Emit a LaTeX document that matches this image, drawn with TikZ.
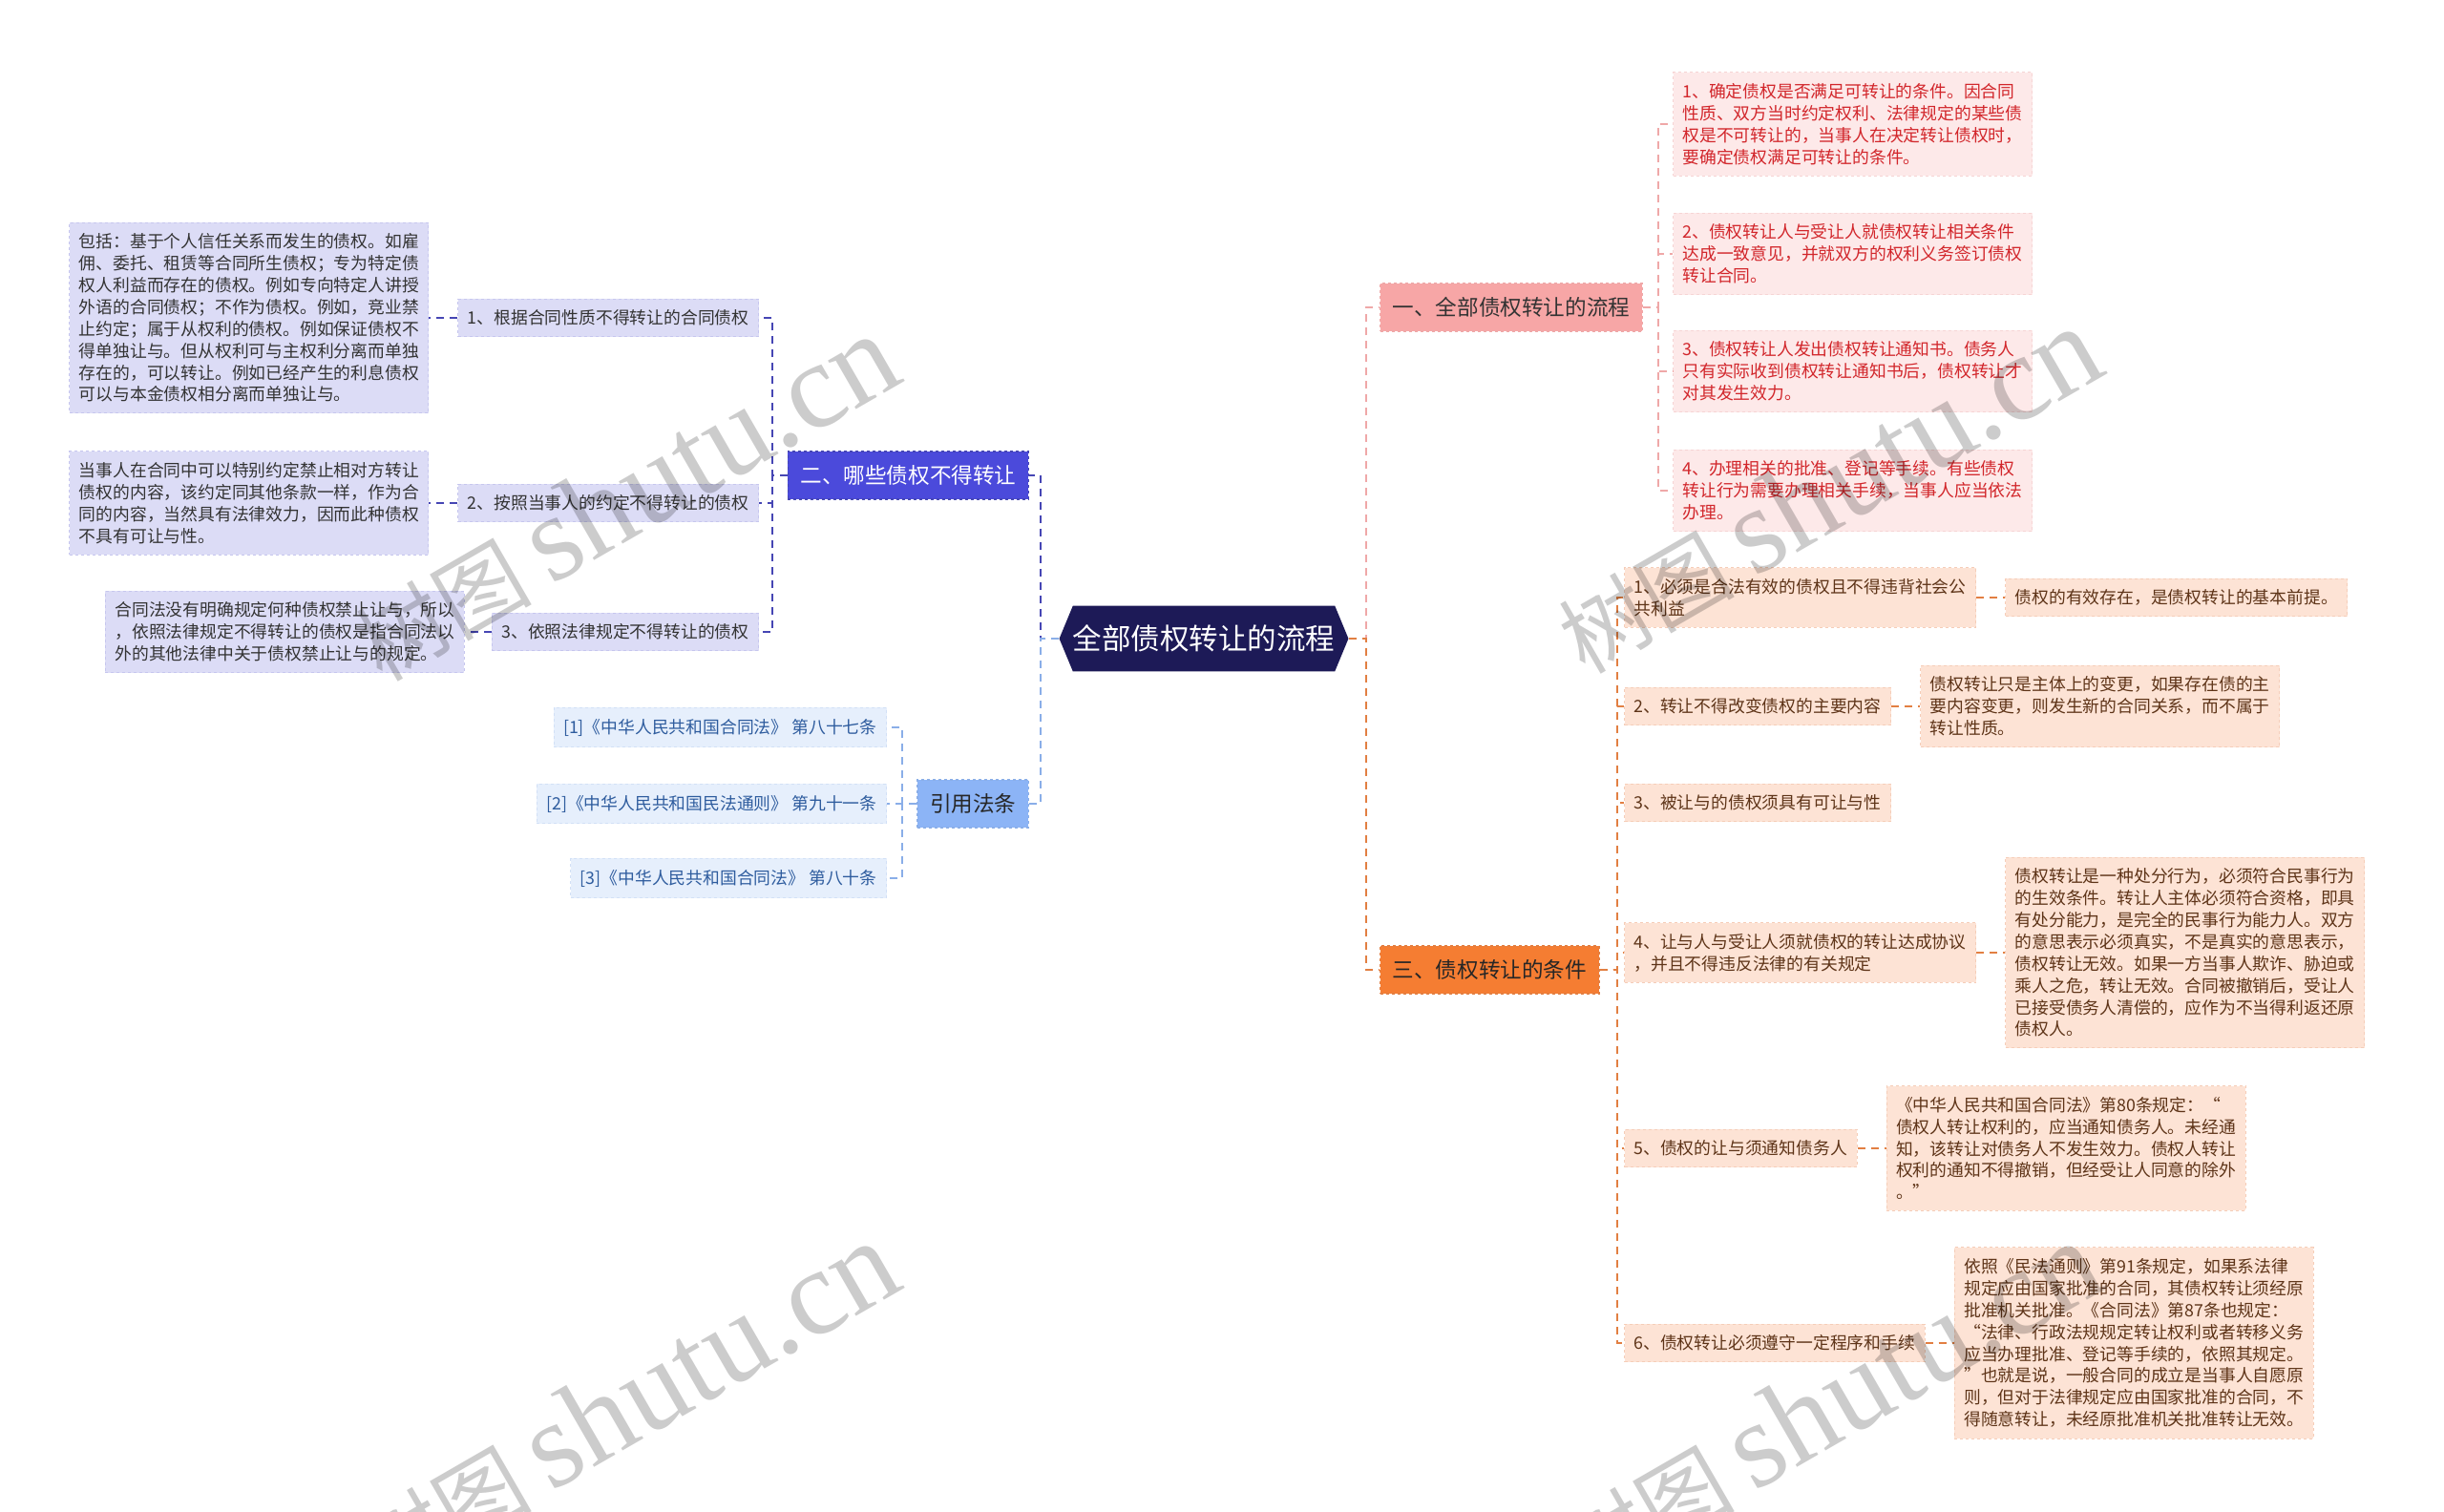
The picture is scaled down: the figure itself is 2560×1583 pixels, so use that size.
\documentclass[tikz,border=0pt]{standalone}
\usepackage{fontspec}
\setmainfont{Noto Sans CJK SC}
\newfontfamily\stampfont{Liberation Serif}
\usetikzlibrary{positioning, shapes.symbols}
\definecolor{rootfill}{HTML}{1D1A57}
\definecolor{banfill}{HTML}{4B4ADB}
\definecolor{banline}{HTML}{4646B4}
\definecolor{banleaf}{HTML}{DCDCF6}
\definecolor{banedge}{HTML}{C6C6EE}
\definecolor{lawfill}{HTML}{8CB4F6}
\definecolor{lawline}{HTML}{8AAEE8}
\definecolor{lawleaf}{HTML}{E6EFFC}
\definecolor{lawedge}{HTML}{D2E0F6}
\definecolor{lawtext}{HTML}{2E5C9E}
\definecolor{flowfill}{HTML}{F7A6A6}
\definecolor{flowline}{HTML}{EFA8A8}
\definecolor{flowleaf}{HTML}{FDE9E9}
\definecolor{flowedge}{HTML}{F6D4D4}
\definecolor{flowtext}{HTML}{D2262B}
\definecolor{condfill}{HTML}{F57D32}
\definecolor{condline}{HTML}{E27F42}
\definecolor{condleaf}{HTML}{FDE3D5}
\definecolor{condedge}{HTML}{F5CDB8}
\definecolor{condtext}{HTML}{5E3418}
\tikzstyle{rootbox} = [
    signal,
    signal to=east and west,
    signal pointer angle=135,
    fill=rootfill,
    text=white,
    font=\fontsize{30.5}{36}\selectfont,
    inner xsep=0pt,
    inner ysep=20pt
]
\tikzstyle{headbox} = [
    rectangle,
    dashed,
    line width=1.2pt,
    font=\fontsize{22.6}{27}\selectfont,
    inner xsep=13pt,
    inner ysep=14.5pt
]
\tikzstyle{itembox} = [
    rectangle,
    dashed,
    line width=1pt,
    align=left,
    font=\fontsize{17.8}{22.9}\selectfont,
    inner xsep=10pt,
    inner ysep=11.5pt
]
\tikzstyle{banhead} = [headbox, fill=banfill, draw=banline, text=white]
\tikzstyle{banitem} = [itembox, fill=banleaf, draw=banedge, text=black!80]
\tikzstyle{lawhead} = [headbox, fill=lawfill, draw=lawline, text=black!85]
\tikzstyle{lawitem} = [itembox, fill=lawleaf, draw=lawedge, text=lawtext]
\tikzstyle{flowhead} = [headbox, fill=flowfill, draw=flowline, text=black!80]
\tikzstyle{flowitem} = [itembox, fill=flowleaf, draw=flowedge, text=flowtext]
\tikzstyle{condhead} = [headbox, fill=condfill, draw=condline, text=black!85]
\tikzstyle{conditem} = [itembox, fill=condleaf, draw=condedge, text=condtext]
\tikzstyle{linkline} = [line width=2pt, dash pattern=on 8pt off 6pt]
\tikzstyle{banlink} = [linkline, draw=banline]
\tikzstyle{lawlink} = [linkline, draw=lawline]
\tikzstyle{flowlink} = [linkline, draw=flowline]
\tikzstyle{condlink} = [linkline, draw=condline]
\tikzstyle{stamp} = [
    rotate=30,
    text=black,
    text opacity=0.2,
    inner sep=0pt
]
\begin{document}
\begin{tikzpicture}[x=1pt, y=-1pt, node distance=30pt]

\useasboundingbox [fill=white] (0,0) rectangle (2560,1583);

\node (root) [rootbox] at (1261,669) {全部债权转让的流程};

\node (ban) [banhead, anchor=east] at (1078,498) {二、哪些债权不得转让};
\node (law) [lawhead, anchor=east] at (1078,842) {引用法条};
\node (flow) [flowhead, anchor=west] at (1445,322) {一、全部债权转让的流程};
\node (cond) [condhead, anchor=west] at (1445,1016) {三、债权转让的条件};

\node (ban1) [banitem, anchor=east] at (795,333) {1、根据合同性质不得转让的合同债权};
\node (ban1x) [banitem, left=of ban1]
{包括：基于个人信任关系而发生的债权。如雇\\佣、委托、租赁等合同所生债权；专为特定债\\权人利益而存在的债权。例如专向特定人讲授\\外语的合同债权；不作为债权。例如，竞业禁\\止约定；属于从权利的债权。例如保证债权不\\得单独让与。但从权利可与主权利分离而单独\\存在的，可以转让。例如已经产生的利息债权\\可以与本金债权相分离而单独让与。};

\node (ban2) [banitem, anchor=east] at (795,527) {2、按照当事人的约定不得转让的债权};
\node (ban2x) [banitem, left=of ban2]
{当事人在合同中可以特别约定禁止相对方转让\\债权的内容，该约定同其他条款一样，作为合\\同的内容，当然具有法律效力，因而此种债权\\不具有可让与性。};

\node (ban3) [banitem, anchor=east] at (795,662) {3、依照法律规定不得转让的债权};
\node (ban3x) [banitem, left=28pt of ban3]
{合同法没有明确规定何种债权禁止让与，所以\\，依照法律规定不得转让的债权是指合同法以\\外的其他法律中关于债权禁止让与的规定。};

\node (law1) [lawitem, anchor=east] at (929,762) {[1]《中华人民共和国合同法》 第八十七条};
\node (law2) [lawitem, anchor=east] at (929,842) {[2]《中华人民共和国民法通则》 第九十一条};
\node (law3) [lawitem, anchor=east] at (929,920) {[3]《中华人民共和国合同法》 第八十条};

\node (flow1) [flowitem, anchor=west] at (1752,130)
{1、确定债权是否满足可转让的条件。因合同\\性质、双方当时约定权利、法律规定的某些债\\权是不可转让的，当事人在决定转让债权时，\\要确定债权满足可转让的条件。};
\node (flow2) [flowitem, anchor=west] at (1752,266)
{2、债权转让人与受让人就债权转让相关条件\\达成一致意见，并就双方的权利义务签订债权\\转让合同。};
\node (flow3) [flowitem, anchor=west] at (1752,389)
{3、债权转让人发出债权转让通知书。债务人\\只有实际收到债权转让通知书后，债权转让才\\对其发生效力。};
\node (flow4) [flowitem, anchor=west] at (1752,514)
{4、办理相关的批准、登记等手续。有些债权\\转让行为需要办理相关手续，当事人应当依法\\办理。};

\node (cond1) [conditem, anchor=west] at (1701,626)
{1、必须是合法有效的债权且不得违背社会公\\共利益};
\node (cond1x) [conditem, right=of cond1]
{债权的有效存在，是债权转让的基本前提。};

\node (cond2) [conditem, anchor=west] at (1701,740) {2、转让不得改变债权的主要内容};
\node (cond2x) [conditem, right=of cond2]
{债权转让只是主体上的变更，如果存在债的主\\要内容变更，则发生新的合同关系，而不属于\\转让性质。};

\node (cond3) [conditem, anchor=west] at (1701,841) {3、被让与的债权须具有可让与性};

\node (cond4) [conditem, anchor=west] at (1701,998)
{4、让与人与受让人须就债权的转让达成协议\\，并且不得违反法律的有关规定};
\node (cond4x) [conditem, right=of cond4]
{债权转让是一种处分行为，必须符合民事行为\\的生效条件。转让人主体必须符合资格，即具\\有处分能力，是完全的民事行为能力人。双方\\的意思表示必须真实，不是真实的意思表示，\\债权转让无效。如果一方当事人欺诈、胁迫或\\乘人之危，转让无效。合同被撤销后，受让人\\已接受债务人清偿的，应作为不当得利返还原\\债权人。};

\node (cond5) [conditem, anchor=west] at (1701,1203) {5、债权的让与须通知债务人};
\node (cond5x) [conditem, right=of cond5]
{《中华人民共和国合同法》第80条规定：“\\债权人转让权利的，应当通知债务人。未经通\\知，该转让对债务人不发生效力。债权人转让\\权利的通知不得撤销，但经受让人同意的除外\\。”};

\node (cond6) [conditem, anchor=west] at (1701,1407) {6、债权转让必须遵守一定程序和手续};
\node (cond6x) [conditem, right=of cond6]
{依照《民法通则》第91条规定，如果系法律\\规定应由国家批准的合同，其债权转让须经原\\批准机关批准。《合同法》第87条也规定：\\“法律、行政法规规定转让权利或者转移义务\\应当办理批准、登记等手续的，依照其规定。\\”也就是说，一般合同的成立是当事人自愿原\\则，但对于法律规定应由国家批准的合同，不\\得随意转让，未经原批准机关批准转让无效。};

\draw [banlink] (root.west) -- ++(-19,0) |- (ban.east);
\draw [lawlink] (root.west) -- ++(-19,0) |- (law.east);
\draw [flowlink] (root.east) -- ++(18,0) |- (flow.west);
\draw [condlink] (root.east) -- ++(18,0) |- (cond.west);

\draw [banlink] (ban.west) -- ++(-16,0) |- (ban1.east);
\draw [banlink] (ban.west) -- ++(-16,0) |- (ban2.east);
\draw [banlink] (ban.west) -- ++(-16,0) |- (ban3.east);
\draw [banlink] (ban1) -- (ban1x);
\draw [banlink] (ban2) -- (ban2x);
\draw [banlink] (ban3) -- (ban3x);

\draw [lawlink] (law.west) -- ++(-15,0) |- (law1.east);
\draw [lawlink] (law.west) -- ++(-15,0) |- (law2.east);
\draw [lawlink] (law.west) -- ++(-15,0) |- (law3.east);

\draw [flowlink] (flow.east) -- ++(16,0) |- (flow1.west);
\draw [flowlink] (flow.east) -- ++(16,0) |- (flow2.west);
\draw [flowlink] (flow.east) -- ++(16,0) |- (flow3.west);
\draw [flowlink] (flow.east) -- ++(16,0) |- (flow4.west);

\draw [condlink] (cond.east) -- ++(18,0) |- (cond1.west);
\draw [condlink] (cond.east) -- ++(18,0) |- (cond2.west);
\draw [condlink] (cond.east) -- ++(18,0) |- (cond3.west);
\draw [condlink] (cond.east) -- ++(18,0) |- (cond4.west);
\draw [condlink] (cond.east) -- ++(18,0) |- (cond5.west);
\draw [condlink] (cond.east) -- ++(18,0) |- (cond6.west);
\draw [condlink] (cond1) -- (cond1x);
\draw [condlink] (cond2) -- (cond2x);
\draw [condlink] (cond4) -- (cond4x);
\draw [condlink] (cond5) -- (cond5x);
\draw [condlink] (cond6) -- (cond6x);

\node (stamp1) [stamp] at (655,522) {\fontsize{92}{100}\selectfont 树图 \stampfont\fontsize{128}{140}\selectfont shutu.cn};
\node (stamp2) [stamp] at (1915,514) {\fontsize{92}{100}\selectfont 树图 \stampfont\fontsize{128}{140}\selectfont shutu.cn};
\node (stamp3) [stamp] at (655,1472) {\fontsize{92}{100}\selectfont 树图 \stampfont\fontsize{128}{140}\selectfont shutu.cn};
\node (stamp4) [stamp] at (1915,1472) {\fontsize{92}{100}\selectfont 树图 \stampfont\fontsize{128}{140}\selectfont shutu.cn};

\end{tikzpicture}
\end{document}
